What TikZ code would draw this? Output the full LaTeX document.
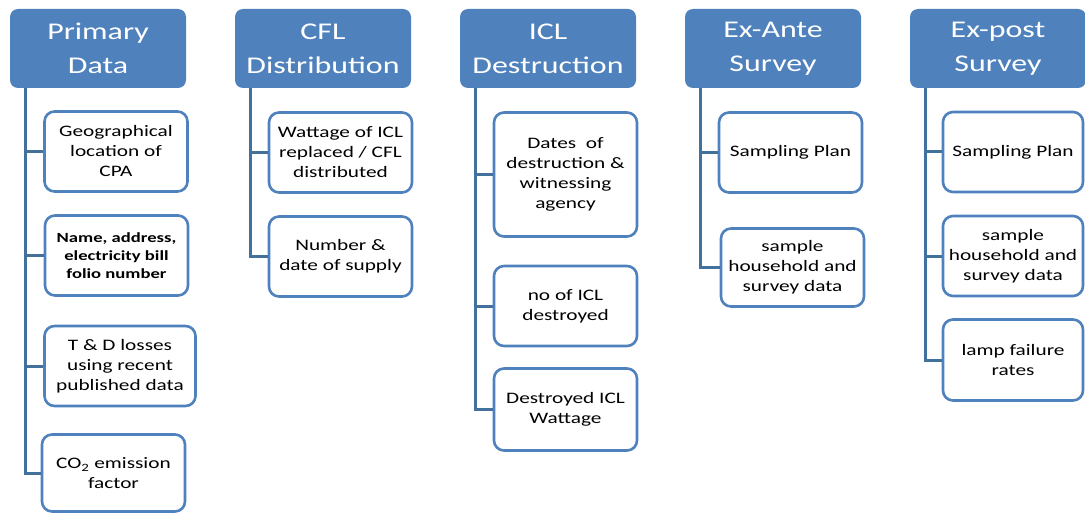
\documentclass[tikz,border=0pt]{standalone}
\usepackage{fontspec}
\setmainfont{Carlito}[FakeStretch=1.33]
\usetikzlibrary{positioning}
\definecolor{smartblue}{HTML}{4F81BD}
\definecolor{trunkblue}{HTML}{41719C}
\tikzset{
  head/.style={fill=smartblue, text=white, rounded corners=8pt, align=center,
    minimum width=176pt, minimum height=79pt, inner sep=0pt,
    font=\fontsize{24}{34}\selectfont},
  item/.style={draw=smartblue, fill=white, line width=2.6pt, rounded corners=10pt,
    align=center, inner sep=0pt, minimum width=143pt, minimum height=80pt,
    font=\fontsize{16}{20}\selectfont},
  trunk/.style={draw=trunkblue, line width=3pt}
}
\begin{document}
\begin{tikzpicture}[x=1pt, y=-1pt]
  \useasboundingbox (0,0) rectangle (1085,516);
  % Headers
  \node[head] (hPD)  at (98,48.5)   {Primary\\Data};
  \node[head] (hCFL) at (323,48.5)  {CFL\\Distribution};
  \node[head] (hICL) at (548,48.5)  {ICL\\Destruction};
  \node[head] (hEA)  at (773,48.5)  {Ex-Ante\\Survey};
  \node[head] (hEP)  at (998,48.5)  {Ex-post\\Survey};

  % Primary data
  \node[item] (pd1) at (116,151.5) {Geographical\\location of\\CPA};
  \node[item, font=\fontsize{14}{18}\selectfont\bfseries] (pd2) at (116.5,255.5)
    {Name, address,\\electricity bill\\folio number};
  \node[item, minimum width=151pt] (pd3) at (120,366) {T \& D losses\\using recent\\published data};
  \node[item, minimum height=77pt] (pd4) at (113.5,473) {CO\textsubscript{2} emission\\factor};

  % CFL distribution
  \node[item] (cf1) at (340.5,152.5) {Wattage of ICL\\replaced / CFL\\distributed};
  \node[item] (cf2) at (340.5,256.5) {Number \&\\date of supply};

  % ICL destruction
  \node[item, minimum height=124pt] (ic1) at (565.5,174.5)
    {Dates\ \ of\\destruction \&\\witnessing\\agency};
  \node[item] (ic2) at (565.5,306) {no of ICL\\destroyed};
  \node[item, minimum height=82pt] (ic3) at (565.5,409.5) {Destroyed ICL\\Wattage};

  % Ex-ante survey
  \node[item] (ea1) at (790.5,152.5) {Sampling Plan};
  \node[item, minimum height=78pt] (ea2) at (792.5,267.5) {sample\\household and\\survey data};

  % Ex-post survey
  \node[item, minimum width=140pt] (ep1) at (1013,152) {Sampling Plan};
  \node[item, minimum width=140pt] (ep2) at (1013,256) {sample\\household and\\survey data};
  \node[item, minimum width=140pt, minimum height=81pt] (ep3) at (1013,360) {lamp failure\\rates};

  % Trunk lines
  \coordinate (tPD)  at ([xshift=16pt]hPD.south west);
  \coordinate (tCFL) at ([xshift=16pt]hCFL.south west);
  \coordinate (tICL) at ([xshift=16pt]hICL.south west);
  \coordinate (tEA)  at ([xshift=16pt]hEA.south west);
  \coordinate (tEP)  at ([xshift=16pt]hEP.south west);
  \draw[trunk] (tPD) |- (pd4.west);
  \draw[trunk] (tCFL) |- (cf2.west);
  \draw[trunk] (tICL) |- (ic3.west);
  \draw[trunk] (tEA) |- (ea2.west);
  \draw[trunk] (tEP) |- (ep3.west);
  \foreach \n/\t in {pd1/tPD, pd2/tPD, pd3/tPD, cf1/tCFL, ic1/tICL, ic2/tICL, ea1/tEA, ep1/tEP, ep2/tEP}
    \draw[trunk] (\n.west) -- (\n.west -| \t);
\end{tikzpicture}
\end{document}
